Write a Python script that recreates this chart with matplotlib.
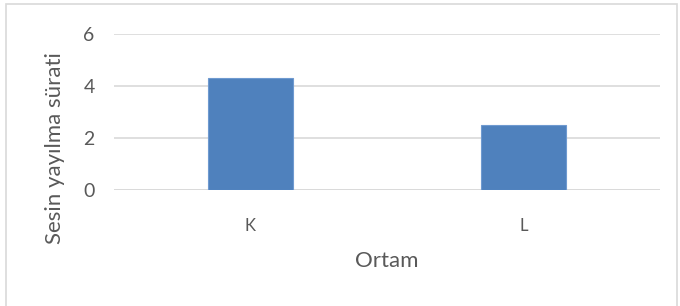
import matplotlib
matplotlib.use("Agg")
import matplotlib.pyplot as plt
from matplotlib.patches import Rectangle

categories = ["K", "L"]
values = [4.3, 2.5]
yticks = [0, 2, 4, 6]

W, H = 680, 306
fig = plt.figure(figsize=(W/100, H/100), dpi=100)
fig.patch.set_facecolor("white")
plt.rcParams['font.family'] = ['Lato', 'DejaVu Sans']
txt = "#595959"

ax = fig.add_axes([114/W, 1-190/H, (660-114)/W, (190-34)/H])
x = list(range(len(categories)))
ax.bar(x, values, width=0.315, color="#4F81BD", edgecolor="#6F9AD0", linewidth=0.8, zorder=3)
ax.set_xlim(-0.5, len(categories)-0.5)
ax.set_ylim(0, 6)
ax.set_yticks(yticks)
ax.set_yticklabels([str(t) for t in yticks], fontsize=14, color=txt)
ax.set_xticks(x)
ax.set_xticklabels(categories, fontsize=12, color=txt)
ax.tick_params(axis='y', length=0, pad=14)
ax.tick_params(axis='x', length=0, pad=20)
ax.grid(axis='y', color="#D9D9D9", linewidth=1.2, zorder=0)
for s in ax.spines.values():
    s.set_visible(False)
ax.axhline(0, color="#D9D9D9", linewidth=1.2, zorder=1)

fig.text(55/W, 1-148/H, "Sesin yayılma sürati", rotation=90, ha='center', va='center', fontsize=16, color=txt)
fig.text(387/W, 1-261/H, "Ortam", ha='center', va='center', fontsize=16, color=txt)

fig.patches.append(Rectangle((6/W, -10/H), (677-6)/W, (312)/H, transform=fig.transFigure,
                             fill=False, edgecolor="#D9D9D9", linewidth=1.2))

fig.savefig("out.png", dpi=100)
